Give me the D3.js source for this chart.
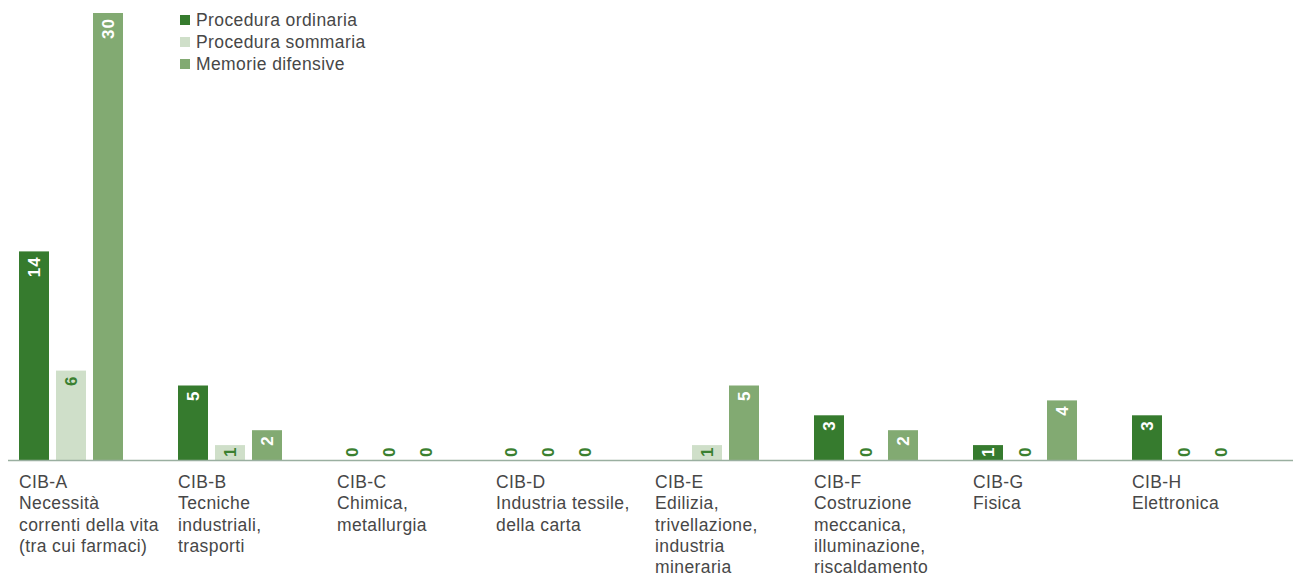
<!DOCTYPE html>
<html>
<head>
<meta charset="utf-8">
<script src="https://cdn.jsdelivr.net/npm/d3@7"></script>
<style>
  body { margin: 0; background: #fff; }
  svg { display: block; font-family: "Liberation Sans", Arial, sans-serif; }
</style>
</head>
<body>
<svg></svg>
<script>
// categories and series
var categories = ['CIB-A', 'CIB-B', 'CIB-C', 'CIB-D', 'CIB-E', 'CIB-F', 'CIB-G', 'CIB-H'];
var categoryNames = [
  ['Necessità', 'correnti della vita', '(tra cui farmaci)'],
  ['Tecniche', 'industriali,', 'trasporti'],
  ['Chimica,', 'metallurgia'],
  ['Industria tessile,', 'della carta'],
  ['Edilizia,', 'trivellazione,', 'industria', 'mineraria'],
  ['Costruzione', 'meccanica,', 'illuminazione,', 'riscaldamento'],
  ['Fisica'],
  ['Elettronica']
];
var seriesNames = ['Procedura ordinaria', 'Procedura sommaria', 'Memorie difensive'];
var ordinaria = [14, 5, 0, 0, null, 3, 1, 3];
var sommaria = [6, 1, 0, 0, 1, 0, 0, 0];
var memorie = [30, 2, 0, 0, 5, 2, 4, 0];

var colors = ['#367b2e', '#cfdfc9', '#82aa72'];
var labelColors = ['#ffffff', '#3a8030', '#ffffff'];

document.addEventListener('DOMContentLoaded', function() {
  var width = 1293;
  var height = 577;
  var baseline = 460;

  var svg = d3.select('svg')
      .attr('width', width)
      .attr('height', height);

  var seriesValues = [ordinaria, sommaria, memorie];
  var rows = categories.map(function(c, i) {
    return {
      cat: c,
      names: categoryNames[i],
      values: seriesNames.map(function(s, j) {
        return { series: s, idx: j, value: seriesValues[j][i] };
      })
    };
  });

  var x0 = d3.scaleBand()
      .domain(categories)
      .range([19, 19 + 159 * categories.length])
      .paddingInner(0)
      .paddingOuter(0);

  var x1 = d3.scaleBand()
      .domain(seriesNames)
      .range([0, 104])
      .paddingInner(7 / 37)
      .paddingOuter(0);

  var y = d3.scaleLinear()
      .domain([0, 30])
      .range([baseline, 13]);

  var groups = svg.append('g')
    .selectAll('.group')
    .data(rows)
    .enter()
    .append('g')
      .classed('group', true)
      .attr('transform', d => `translate(${x0(d.cat)},0)`);

  groups.selectAll('rect')
    .data(d => d.values.filter(v => v.value != null && v.value > 0))
    .enter()
    .append('rect')
      .attr('x', d => x1(d.series))
      .attr('y', d => y(d.value))
      .attr('width', x1.bandwidth())
      .attr('height', d => baseline - y(d.value))
      .attr('fill', d => colors[d.idx]);

  // value labels, rotated, reading bottom to top
  function isShort(d) { return baseline - y(d.value) < 22; }

  groups.selectAll('.val')
    .data(d => d.values.filter(v => v.value != null))
    .enter()
    .append('text')
      .classed('val', true)
      .attr('transform', function(d) {
        var cx = x1(d.series) + x1.bandwidth() / 2;
        var yy = isShort(d) ? baseline - 3 : y(d.value) + 5;
        return `translate(${cx},${yy}) rotate(-90)`;
      })
      .attr('dy', '0.36em')
      .attr('text-anchor', d => isShort(d) ? 'start' : 'end')
      .attr('font-size', 17)
      .attr('font-weight', 'bold')
      .attr('letter-spacing', 1)
      .attr('fill', d => d.value === 0 ? '#3a8030' : labelColors[d.idx])
      .text(d => d.value);

  // axis line
  svg.append('line')
      .attr('x1', 8)
      .attr('x2', width)
      .attr('y1', baseline + 0.5)
      .attr('y2', baseline + 0.5)
      .attr('stroke', '#9aafa0')
      .attr('stroke-width', 1.5);

  // category labels
  var lab = groups.append('text')
      .attr('y', 488)
      .attr('font-size', 17.5)
      .attr('letter-spacing', 0.4)
      .attr('fill', '#474747');

  lab.selectAll('tspan')
    .data(d => [d.cat].concat(d.names))
    .enter()
    .append('tspan')
      .attr('x', 0)
      .attr('y', (d, i) => 488 + i * 21.3)
      .text(d => d);

  // legend
  var legend = svg.append('g')
      .attr('transform', 'translate(180,15)');

  var item = legend.selectAll('.item')
    .data(seriesNames)
    .enter()
    .append('g')
      .classed('item', true)
      .attr('transform', (d, i) => `translate(0,${i * 22})`);

  item.append('rect')
      .attr('width', 10)
      .attr('height', 10)
      .attr('fill', (d, i) => colors[i]);

  item.append('text')
      .attr('x', 16)
      .attr('y', 11)
      .attr('font-size', 17.5)
      .attr('letter-spacing', 0.4)
      .attr('fill', '#474747')
      .text(d => d);
});
</script>
</body>
</html>
